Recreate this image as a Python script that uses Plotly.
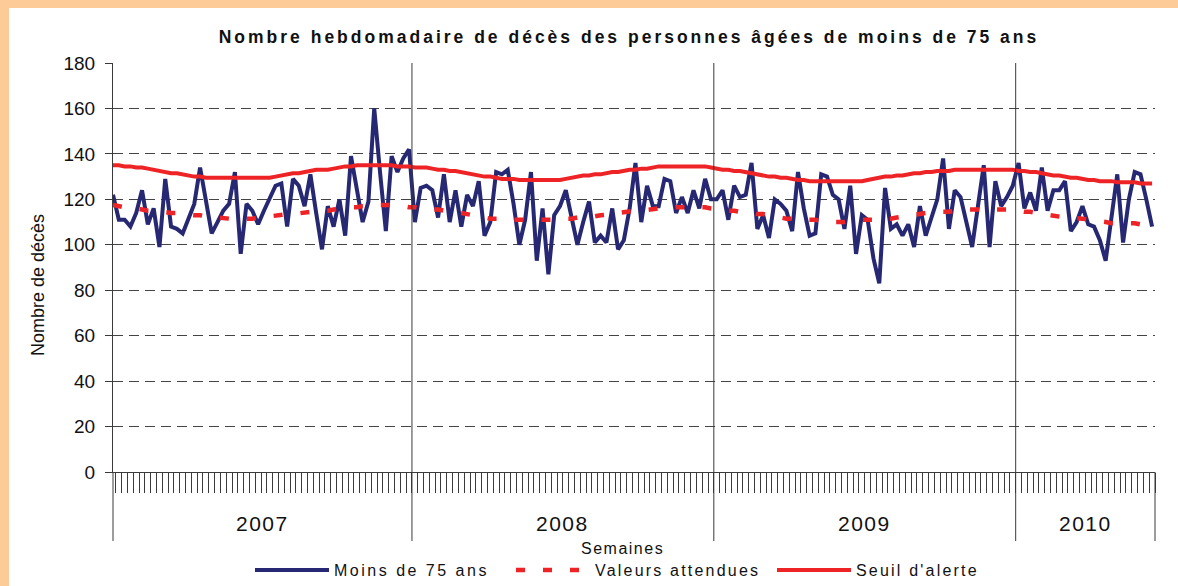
import plotly.graph_objects as go

# ---------------- data ----------------
year_labels = ["2007", "2008", "2009", "2010"]
weeks_per_year = [52, 52, 52, 24]
series_names = ["Moins de 75 ans", "Valeurs attendues", "Seuil d'alerte"]

moins_75 = [
    122, 111, 111, 108, 114, 124, 109, 116, 99, 129,
    108, 107, 105, 112, 118, 134, 119, 105, 110, 115,
    118, 132, 96, 118, 115, 109, 115, 121, 126, 127,
    108, 129, 126, 117, 131, 114, 98, 117, 108, 120,
    104, 139, 125, 110, 119, 160, 132, 106, 139, 132,
    138, 142, 110, 125, 126, 124, 112, 131, 110, 124,
    108, 122, 117, 128, 104, 110, 132, 131, 133, 118,
    100, 111, 132, 93, 116, 87, 113, 117, 124, 112,
    100, 110, 119, 101, 104, 101, 116, 98, 102, 116,
    136, 110, 126, 117, 117, 129, 128, 114, 121, 114,
    124, 116, 129, 120, 120, 124, 111, 126, 121, 122,
    136, 107, 113, 103, 120, 118, 115, 106, 132, 116,
    104, 105, 131, 130, 122, 120, 107, 126, 96, 113,
    111, 94, 83, 125, 107, 109, 104, 109, 99, 117,
    104, 112, 120, 138, 107, 124, 121, 110, 99, 117,
    135, 99, 128, 117, 121, 126, 136, 116, 123, 115,
    134, 115, 124, 124, 128, 106, 110, 117, 109, 108,
    102, 93, 112, 131, 101, 120, 132, 131, 120, 108,
]

valeurs_attendues = [
    117.5, 117, 116.5, 116, 116, 115.5, 115, 115, 114.5, 114.5,
    114, 114, 113.5, 113.5, 113, 113, 112.5, 112, 112, 111.5,
    111.5, 111.5, 111.5, 111.5, 111.5, 112, 112, 112.5, 113, 113,
    113.5, 113.5, 114, 114, 114.5, 114.5, 115, 115, 115.5, 116,
    116, 116.5, 116.5, 117, 117, 117, 117.5, 117.5, 117.5, 117,
    117, 116.5, 116.5, 116, 116, 115.5, 115.5, 115, 114.5, 114.5,
    114, 113.5, 113, 112.5, 112, 111.5, 111.5, 111.5, 111, 111,
    111, 111, 111, 111, 111, 111, 111, 111, 111.5, 111.5,
    112, 112, 112.5, 112.5, 113, 113.5, 113.5, 114, 114.5, 114.5,
    115, 115, 115.5, 115.5, 116, 116, 116, 116.5, 116.5, 116.5,
    116.5, 116.5, 116.5, 116, 115.5, 115.5, 115, 115, 114.5, 114,
    114, 113.5, 113.5, 113, 112.5, 112, 111.5, 111.5, 111, 111,
    111, 111, 110.5, 110.5, 110, 110, 110, 110.5, 110.5, 111,
    111, 111, 111, 111.5, 111.5, 112, 112.5, 113, 113, 113.5,
    114, 114, 114, 114.5, 114.5, 115, 115, 115.5, 115.5, 115.5,
    115.5, 115.5, 115.5, 115.5, 115.5, 115, 115, 114.5, 114.5, 114,
    113.5, 113, 112.5, 112.5, 112, 112, 111.5, 111.5, 111, 110.5,
    110, 110, 109.5, 109.5, 109.5, 109.5, 109.5, 109, 109, 109,
]

seuil_alerte = [
    135, 135, 134.5, 134.5, 134, 134, 133.5, 133, 132.5, 132,
    131.5, 131.5, 131, 130.5, 130, 130, 129.5, 129.5, 129.5, 129.5,
    129.5, 129.5, 129.5, 129.5, 129.5, 129.5, 129.5, 129.5, 130, 130.5,
    131, 131.5, 131.5, 132, 132.5, 133, 133, 133, 133.5, 134,
    134.5, 134.5, 135, 135, 135, 135, 135, 135, 135, 134.5,
    134.5, 134.5, 134, 134, 134, 133.5, 133, 133, 132.5, 132.5,
    132, 131.5, 131, 130.5, 130, 130, 129.5, 129, 129, 129,
    128.5, 128.5, 128.5, 128.5, 128.5, 128.5, 128.5, 128.5, 129, 129.5,
    130, 130.5, 130.5, 131, 131, 131.5, 132, 132, 132.5, 133,
    133, 133.5, 133.5, 134, 134.5, 134.5, 134.5, 134.5, 134.5, 134.5,
    134.5, 134.5, 134.5, 134, 133.5, 133, 133, 132.5, 132.5, 132,
    131.5, 131, 130.5, 130, 130, 129.5, 129.5, 129, 128.5, 128.5,
    128, 128, 128, 128, 128, 128, 128, 128, 128, 128,
    128.5, 129, 129.5, 130, 130, 130.5, 130.5, 131, 131.5, 131.5,
    132, 132, 132.5, 132.5, 132.5, 133, 133, 133, 133, 133,
    133, 133, 133, 133, 133, 133, 132.5, 132.5, 132, 132,
    131.5, 131, 130.5, 130.5, 130, 129.5, 129.5, 129, 128.5, 128.5,
    128, 128, 128, 127.5, 127.5, 127.5, 127.5, 127, 127, 127,
]

y_ticks = [0, 20, 40, 60, 80, 100, 120, 140, 160, 180]

# ---------------- layout geometry ----------------
W, H = 1178, 586
PL, PR, PT, PB = 113, 1155, 63, 472   # plot area in pixels
n = len(moins_75)
weeks = list(range(n))
x_max = n - 0.5
x_range = [0, x_max]

def px_x(px):
    return (px - PL) / (PR - PL)

def px_y(py):
    return (PB - py) / (PB - PT)

def data_x_to_paper(v):
    return (v - x_range[0]) / (x_range[1] - x_range[0])

def spaced(text, ls):
    return f'<span style="letter-spacing:{ls}px">{text}</span>'

bounds = [0]
acc = 0
for w in weeks_per_year:
    acc += w
    bounds.append(acc - 0.5)
bounds[-1] = x_max

NAVY = "#262873"
RED = "#EE2326"
ORANGE = "#FCCB97"
AXIS = "#3a3a3a"
FONT = "Liberation Sans, Arial, sans-serif"

fig = go.Figure()
fig.add_trace(go.Scatter(
    x=weeks, y=moins_75, mode="lines", name=spaced(series_names[0], 2.5),
    line=dict(color=NAVY, width=4),
))
fig.add_trace(go.Scatter(
    x=weeks, y=valeurs_attendues, mode="lines", name=spaced(series_names[1], 2.2),
    line=dict(color=RED, width=4.5, dash="9px,18px"),
))
fig.add_trace(go.Scatter(
    x=weeks, y=seuil_alerte, mode="lines", name=spaced(series_names[2], 2.2),
    line=dict(color=RED, width=4),
))

shapes = []
# orange frame: paper background is orange, white panel on top
shapes.append(dict(type="rect", xref="paper", yref="paper", layer="below",
                   x0=px_x(9), x1=px_x(W + 20), y0=px_y(H + 20), y1=px_y(8),
                   fillcolor="white", line=dict(width=0)))
# left axis extension and year separators
sep_bottom = px_y(541)
shapes.append(dict(type="line", xref="paper", yref="paper",
                   x0=0, x1=0, y0=sep_bottom, y1=0,
                   line=dict(color=AXIS, width=1)))
for b in bounds[1:-1]:
    xp = data_x_to_paper(b)
    shapes.append(dict(type="line", xref="paper", yref="paper",
                       x0=xp, x1=xp, y0=sep_bottom, y1=1,
                       line=dict(color=AXIS, width=1)))
shapes.append(dict(type="line", xref="paper", yref="paper",
                   x0=1, x1=1, y0=sep_bottom, y1=0,
                   line=dict(color=AXIS, width=1)))

annotations = []
for i, lab in enumerate(year_labels):
    annotations.append(dict(
        text=spaced(lab, 1.5), xref="x", yref="paper",
        x=(bounds[i] + bounds[i + 1]) / 2, y=px_y(523),
        showarrow=False, xanchor="center", yanchor="middle",
        font=dict(family=FONT, size=21, color="#111"),
    ))
annotations.append(dict(
    text=spaced("Semaines", 1.5), xref="paper", yref="paper",
    x=px_x(622), y=px_y(548), showarrow=False,
    xanchor="center", yanchor="middle",
    font=dict(family=FONT, size=16, color="#111"),
))
annotations.append(dict(
    text="Nombre de décès", xref="paper", yref="paper",
    x=px_x(38), y=px_y(285), showarrow=False, textangle=-90,
    xanchor="center", yanchor="middle",
    font=dict(family=FONT, size=18, color="#111"),
))

fig.update_layout(
    width=W, height=H, autosize=False,
    margin=dict(l=PL, r=W - PR, t=PT, b=H - PB, autoexpand=False),
    paper_bgcolor=ORANGE,
    plot_bgcolor="rgba(0,0,0,0)",
    font=dict(family=FONT, color="#111"),
    title=dict(
        text="<b>" + spaced("Nombre hebdomadaire de décès des personnes âgées de moins de 75 ans", 3) + "</b>",
        x=px_x(629), xref="paper", xanchor="center",
        y=1 - 37 / H, yref="container", yanchor="middle",
        font=dict(family=FONT, size=17.5, color="#111"),
    ),
    xaxis=dict(
        range=x_range, showgrid=False, zeroline=False,
        showline=True, linecolor=AXIS, linewidth=1,
        ticks="outside", tick0=0.5, dtick=1, ticklen=20,
        tickcolor=AXIS, tickwidth=1, showticklabels=False,
    ),
    yaxis=dict(
        range=[0, 180], tickvals=y_ticks, ticktext=[str(v) for v in y_ticks],
        showgrid=True, gridcolor="#444", gridwidth=1, griddash="10px,6px",
        zeroline=False, showline=True, linecolor=AXIS, linewidth=1,
        ticks="outside", ticklen=7, tickcolor=AXIS, ticklabelstandoff=6,
        tickfont=dict(family=FONT, size=19, color="#111"),
    ),
    showlegend=True,
    legend=dict(
        orientation="h", x=px_x(250), xanchor="left",
        y=px_y(570), yanchor="middle",
        font=dict(family=FONT, size=16, color="#111"),
        bgcolor="rgba(0,0,0,0)", entrywidth=172,
        itemwidth=74,
    ),
    shapes=shapes,
    annotations=annotations,
)

fig.write_html(
    "out.html",
    config={"displayModeBar": False, "responsive": False},
    post_script="document.body.style.margin='0px';"
                "document.documentElement.style.overflow='hidden';"
                "document.body.style.overflow='hidden';",
)
